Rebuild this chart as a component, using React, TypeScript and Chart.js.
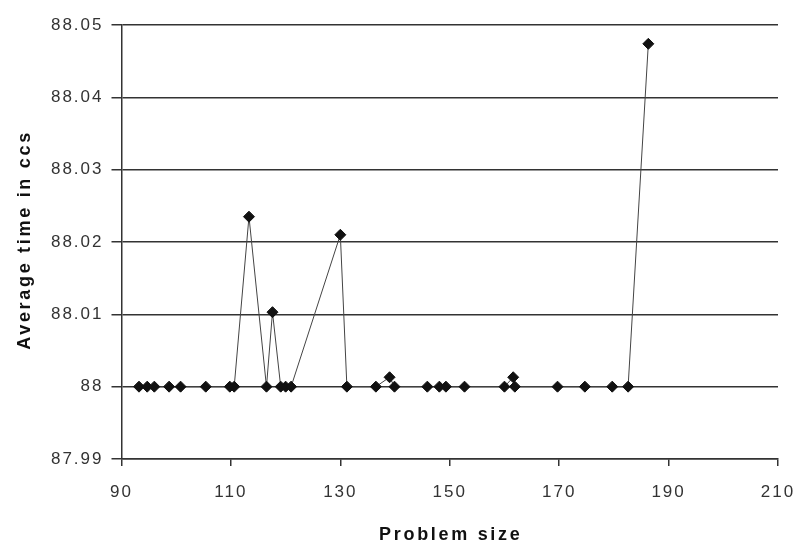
import React, { useEffect, useRef } from "react";
import { Chart, registerables } from "chart.js";

Chart.register(...registerables);

const problemSizes = [
  93.2, 94.7, 96.0, 98.7, 100.8, 105.4, 109.8, 110.6, 113.3, 116.5, 117.6,
  119.1, 120.0, 121.0, 130.0, 131.2, 136.5, 139.0, 139.9, 145.9, 148.1, 149.3,
  152.7, 160.0, 161.6, 161.9, 169.7, 174.7, 179.7, 182.6, 186.3,
];
const avgTimes = [
  88, 88, 88, 88, 88, 88, 88, 88, 88.0235, 88, 88.0103, 88, 88, 88, 88.021,
  88, 88, 88.0013, 88, 88, 88, 88, 88, 88, 88.0013, 88, 88, 88, 88, 88,
  88.0474,
];
const xTickValues = [90, 110, 130, 150, 170, 190, 210];
const yTickValues = [87.99, 88, 88.01, 88.02, 88.03, 88.04, 88.05];
const xTitle = "Problem size";
const yTitle = "Average time in ccs";

const textPlugin = {
  id: "textPlugin",
  beforeDraw(chart: any) {
    const ctx = chart.ctx;
    ctx.save();
    ctx.letterSpacing = "2px";
  },
  afterDraw(chart: any) {
    const ctx = chart.ctx;
    ctx.restore();
    const ca = chart.chartArea;
    ctx.save();
    ctx.font = 'bold 18px "Liberation Sans", Arial, sans-serif';
    ctx.fillStyle = "#111";
    (ctx as any).letterSpacing = "2.7px";
    ctx.textAlign = "center";
    ctx.textBaseline = "middle";
    ctx.fillText(xTitle, (ca.left + ca.right) / 2 + 1, 535);
    ctx.translate(25, (ca.top + ca.bottom) / 2 - 2);
    ctx.rotate(-Math.PI / 2);
    ctx.fillText(yTitle, 0, 0);
    ctx.restore();
  },
};

export default function App() {
  const ref = useRef<HTMLCanvasElement>(null);
  useEffect(() => {
    if (!ref.current) return;
    const chart = new Chart(ref.current, {
      type: "line",
      data: {
        datasets: [
          {
            data: problemSizes.map((x, i) => ({ x, y: avgTimes[i] })),
            borderColor: "#444",
            borderWidth: 1,
            pointStyle: "rectRot",
            pointRadius: 5.5,
            pointBackgroundColor: "#111",
            pointBorderColor: "#111",
            pointBorderWidth: 1,
            tension: 0,
            fill: false,
          },
        ],
      },
      options: {
        responsive: false,
        animation: false,
        devicePixelRatio: 1,
        layout: { padding: { top: 25, right: 19, left: 0, bottom: 0 } },
        plugins: {
          legend: { display: false },
          tooltip: { enabled: false },
          title: { display: false },
        },
        scales: {
          x: {
            type: "linear",
            min: 90,
            max: 210,
            afterBuildTicks: (s: any) => {
              s.ticks = xTickValues.map((v) => ({ value: v }));
            },
            afterFit: (s: any) => {
              s.height = 87;
              s.paddingRight = 0;
              s.paddingLeft = 0;
            },
            grid: {
              drawOnChartArea: false,
              drawTicks: true,
              tickLength: 7,
              color: "#333",
              lineWidth: 1.5,
            },
            border: { display: true, color: "#333", width: 1.5 },
            ticks: {
              color: "#333",
              padding: 16,
              maxRotation: 0,
              font: { family: '"Liberation Sans", Arial, sans-serif', size: 17 },
              callback: (v: any) => String(v),
            },
          },
          y: {
            type: "linear",
            min: 87.99,
            max: 88.05,
            afterBuildTicks: (s: any) => {
              s.ticks = yTickValues.map((v) => ({ value: v }));
            },
            afterFit: (s: any) => {
              s.width = 121.5;
            },
            grid: {
              drawOnChartArea: true,
              drawTicks: true,
              tickLength: 10,
              color: "#333",
              lineWidth: 1.5,
            },
            border: { display: true, color: "#333", width: 1.5 },
            ticks: {
              color: "#333",
              padding: 8,
              font: { family: '"Liberation Sans", Arial, sans-serif', size: 17 },
              callback: (v: any) => String(Number(Number(v).toFixed(2))),
            },
          },
        },
      },
      plugins: [textPlugin],
    });
    return () => chart.destroy();
  }, []);
  return (
    <div style={{ position: "fixed", left: 0, top: 0, width: 797, height: 546, background: "#fff" }}>
      <canvas ref={ref} width={797} height={546} style={{ width: 797, height: 546, display: "block" }} />
    </div>
  );
}
